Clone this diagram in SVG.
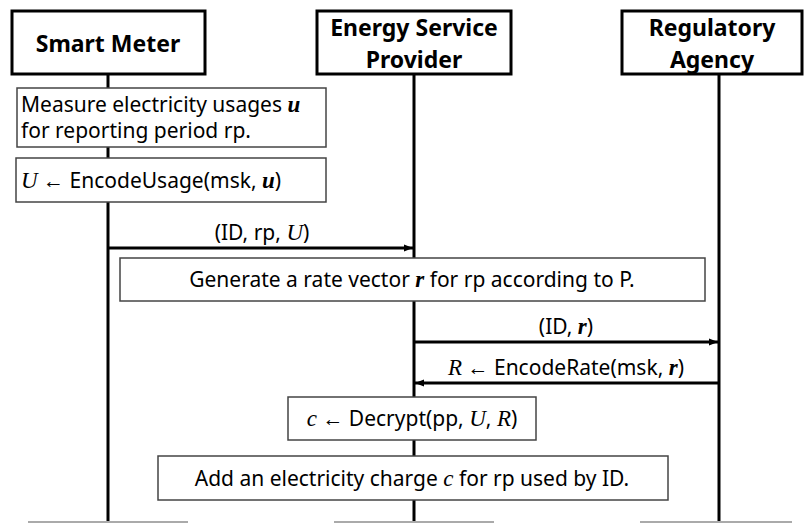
<svg xmlns="http://www.w3.org/2000/svg" width="804" height="523" viewBox="0 0 804 523">
<defs>
<marker id="ah" viewBox="0 0 10 10" refX="10" refY="5" markerWidth="9" markerHeight="9" markerUnits="userSpaceOnUse" orient="auto">
<path d="M0,1 L10,5 L0,9 Z" fill="#000"/>
</marker>
<style>
.hdr{fill:#fff;stroke:#000;stroke-width:3}
.ht{font-family:"Noto Sans","Open Sans",sans-serif;font-weight:bold;font-size:23px;fill:#000;text-anchor:middle}
.life{stroke:#000;stroke-width:3}
.box{fill:#fff;stroke:#444;stroke-width:1.5}
.t{font-family:"Noto Sans","Open Sans",sans-serif;font-size:21px;fill:#000}
.c{text-anchor:middle}
.m{font-family:"Liberation Serif",serif;font-style:italic;font-size:23px}
.mb{font-family:"Liberation Serif",serif;font-style:italic;font-weight:bold;font-size:23px}
.msg{stroke:#000;stroke-width:3;fill:none}
.base{stroke:#aaa;stroke-width:2}
</style>
</defs>
<rect width="804" height="523" fill="#fff"/>
<g id="lifelines">
<line class="life" x1="108" y1="74" x2="108" y2="523"/>
<line class="life" x1="414" y1="74" x2="414" y2="523"/>
<line class="life" x1="719" y1="74" x2="719" y2="523"/>
</g>
<g id="baseline">
<line class="base" x1="28" y1="522" x2="188" y2="522"/>
<line class="base" x1="334" y1="522" x2="494" y2="522"/>
<line class="base" x1="640" y1="522" x2="792" y2="522"/>
</g>
<g id="smart-meter">
<rect class="hdr" x="12" y="11" width="193" height="63"/>
<text class="ht" x="108" y="52">Smart Meter</text>
</g>
<g id="esp">
<rect class="hdr" x="317" y="11" width="194" height="63"/>
<text class="ht" x="414" y="36">Energy Service</text>
<text class="ht" x="414" y="68">Provider</text>
</g>
<g id="ra">
<rect class="hdr" x="622" y="11" width="180" height="63"/>
<text class="ht" x="712" y="36">Regulatory</text>
<text class="ht" x="712" y="68">Agency</text>
</g>
<g id="measure">
<rect class="box" x="17" y="88" width="309" height="59"/>
<text class="t" x="21" y="112">Measure electricity usages <tspan class="mb">u</tspan></text>
<text class="t" x="21" y="138">for reporting period rp.</text>
</g>
<g id="encode-usage">
<rect class="box" x="16" y="158" width="310" height="44"/>
<text class="t" x="21" y="188"><tspan class="m">U</tspan> ← EncodeUsage(msk, <tspan class="mb">u</tspan>)</text>
</g>
<g id="generate">
<rect class="box" x="120" y="258" width="585" height="43"/>
<text class="t c" x="412" y="287">Generate a rate vector <tspan class="mb">r</tspan> for rp according to P.</text>
</g>
<g id="decrypt">
<rect class="box" x="288" y="397" width="248" height="43"/>
<text class="t c" x="412" y="426"><tspan class="m">c</tspan> ← Decrypt(pp, <tspan class="m">U</tspan>, <tspan class="m">R</tspan>)</text>
</g>
<g id="add-charge">
<rect class="box" x="158" y="456" width="510" height="44"/>
<text class="t c" x="412" y="486">Add an electricity charge <tspan class="m">c</tspan> for rp used by ID.</text>
</g>
<g id="connectors">
<line class="msg" x1="108" y1="248" x2="413" y2="248" marker-end="url(#ah)"/>
<text class="t c" x="262" y="240">(ID, rp, <tspan class="m">U</tspan>)</text>
<line class="msg" x1="414" y1="342" x2="718" y2="342" marker-end="url(#ah)"/>
<text class="t c" x="566" y="334">(ID, <tspan class="mb">r</tspan>)</text>
<line class="msg" x1="719" y1="383" x2="415" y2="383" marker-end="url(#ah)"/>
<text class="t c" x="566" y="375"><tspan class="m">R</tspan> ← EncodeRate(msk, <tspan class="mb">r</tspan>)</text>
</g>
</svg>
